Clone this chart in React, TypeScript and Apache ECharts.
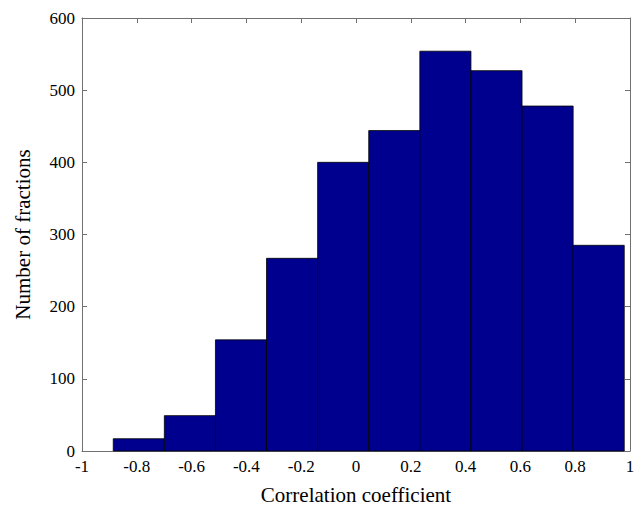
import React, { useEffect, useRef } from "react";
import * as echarts from "echarts";

// Histogram bins: left edge of first bin, common bin width, counts per bin
const binStart = -0.886;
const binWidth = 0.1865;
const counts = [17, 49, 154, 267, 400, 444, 554, 527, 478, 285];

const xTicks = [-1, -0.8, -0.6, -0.4, -0.2, 0, 0.2, 0.4, 0.6, 0.8, 1];
const yTicks = [0, 100, 200, 300, 400, 500, 600];

const xTitle = "Correlation coefficient";
const yTitle = "Number of fractions";

const FONT = "'Liberation Serif', 'Times New Roman', serif";
const AXIS_COLOR = "#707070";

export default function App() {
  const ref = useRef<HTMLDivElement>(null);

  useEffect(() => {
    if (!ref.current) return;
    const chart = echarts.init(ref.current, undefined, { renderer: "svg" });

    const bins = counts.map((c, i) => [
      binStart + i * binWidth,
      binStart + (i + 1) * binWidth,
      c,
    ]);

    const fmt = (v: number) => String(Number(v.toFixed(1)));

    const baseAxis = {
      axisLine: { show: true, onZero: false, lineStyle: { color: AXIS_COLOR, width: 1 } },
      axisTick: { show: true, inside: true, length: 5, lineStyle: { color: AXIS_COLOR } },
      splitLine: { show: false },
    };

    chart.setOption({
      animation: false,
      backgroundColor: "#ffffff",
      grid: {
        left: 82,
        right: 10,
        top: 18,
        bottom: 54,
        containLabel: false,
        outerBoundsMode: "none",
      },
      xAxis: [
        {
          ...baseAxis,
          type: "value",
          position: "bottom",
          min: xTicks[0],
          max: xTicks[xTicks.length - 1],
          interval: 0.2,
          axisLabel: {
            color: "#000",
            fontFamily: FONT,
            fontSize: 17,
            margin: 7,
            formatter: fmt,
          },
          name: xTitle,
          nameLocation: "middle",
          nameGap: 33,
          nameTextStyle: { color: "#000", fontFamily: FONT, fontSize: 21 },
        },
        {
          ...baseAxis,
          type: "value",
          position: "top",
          min: xTicks[0],
          max: xTicks[xTicks.length - 1],
          interval: 0.2,
          axisLabel: { show: false },
        },
      ],
      yAxis: [
        {
          ...baseAxis,
          type: "value",
          position: "left",
          min: yTicks[0],
          max: yTicks[yTicks.length - 1],
          interval: 100,
          axisLabel: {
            color: "#000",
            fontFamily: FONT,
            fontSize: 17,
            margin: 7,
          },
          name: yTitle,
          nameLocation: "middle",
          nameGap: 49,
          nameTextStyle: { color: "#000", fontFamily: FONT, fontSize: 21 },
        },
        {
          ...baseAxis,
          type: "value",
          position: "right",
          min: yTicks[0],
          max: yTicks[yTicks.length - 1],
          interval: 100,
          axisLabel: { show: false },
        },
      ],
      series: [
        {
          type: "custom",
          xAxisIndex: 0,
          yAxisIndex: 0,
          data: bins,
          encode: { x: [0, 1], y: 2 },
          renderItem: (_params: any, api: any) => {
            const p0 = api.coord([api.value(0), api.value(2)]);
            const p1 = api.coord([api.value(1), 0]);
            return {
              type: "rect",
              shape: {
                x: p0[0],
                y: p0[1],
                width: p1[0] - p0[0],
                height: p1[1] - p0[1],
              },
              style: {
                fill: "#00008f",
                stroke: "#000000",
                lineWidth: 0.8,
              },
            };
          },
        },
      ],
    });

    return () => chart.dispose();
  }, []);

  return (
    <div
      ref={ref}
      style={{ position: "fixed", left: 0, top: 0, width: 640, height: 505 }}
    />
  );
}
